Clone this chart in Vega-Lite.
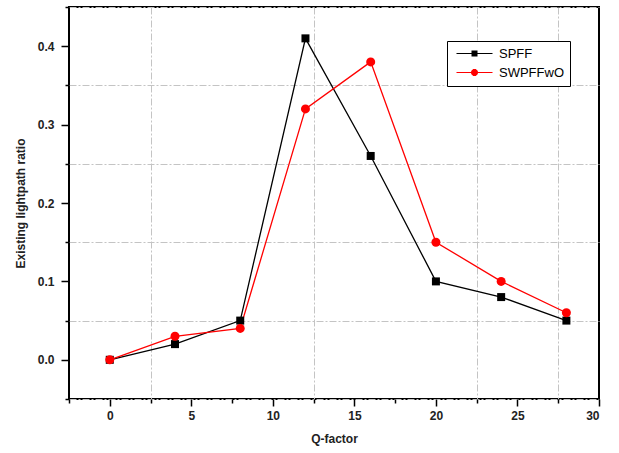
{
  "$schema": "https://vega.github.io/schema/vega-lite/v6.json",
  "width": 530,
  "height": 392,
  "autosize": {"type": "none"},
  "padding": {"left": 69, "top": 7, "right": 20, "bottom": 54},
  "config": {
    "view": {"stroke": "black", "strokeWidth": 2},
    "axis": {
      "domain": false,
      "labelFont": "Liberation Sans",
      "labelFontSize": 12,
      "labelFontWeight": "bold",
      "labelColor": "#222",
      "titleFont": "Liberation Sans",
      "titleFontSize": 12,
      "titleFontWeight": "bold",
      "titleColor": "#222",
      "tickColor": "black",
      "tickWidth": 1.5,
      "grid": false
    }
  },
  "data": {
    "values": [
      {"q": 0, "ratio": 0.0, "series": "SPFF"},
      {"q": 4, "ratio": 0.02, "series": "SPFF"},
      {"q": 8, "ratio": 0.05, "series": "SPFF"},
      {"q": 12, "ratio": 0.41, "series": "SPFF"},
      {"q": 16, "ratio": 0.26, "series": "SPFF"},
      {"q": 20, "ratio": 0.10, "series": "SPFF"},
      {"q": 24, "ratio": 0.08, "series": "SPFF"},
      {"q": 28, "ratio": 0.05, "series": "SPFF"},
      {"q": 0, "ratio": 0.0, "series": "SWPFFwO"},
      {"q": 4, "ratio": 0.03, "series": "SWPFFwO"},
      {"q": 8, "ratio": 0.04, "series": "SWPFFwO"},
      {"q": 12, "ratio": 0.32, "series": "SWPFFwO"},
      {"q": 16, "ratio": 0.38, "series": "SWPFFwO"},
      {"q": 20, "ratio": 0.15, "series": "SWPFFwO"},
      {"q": 24, "ratio": 0.10, "series": "SWPFFwO"},
      {"q": 28, "ratio": 0.06, "series": "SWPFFwO"}
    ]
  },
  "layer": [
    {
      "mark": {"type": "point", "opacity": 0},
      "encoding": {
        "x": {
          "field": "q", "type": "quantitative",
          "scale": {"domain": [-2.5, 30], "nice": false, "zero": false},
          "axis": {"orient": "bottom", "values": [2.5, 12.5, 22.5, 27.5], "grid": true, "ticks": false, "labels": false, "title": null,
                   "gridColor": "#c4c4c4", "gridDash": [7, 2, 2, 2], "gridWidth": 1}
        },
        "y": {
          "field": "ratio", "type": "quantitative",
          "scale": {"domain": [-0.05, 0.45], "nice": false, "zero": false},
          "axis": {"orient": "left", "values": [-0.05, 0.05, 0.15, 0.25, 0.35, 0.45], "grid": true, "tickSize": 4, "labels": false, "title": null,
                   "gridColor": "#c4c4c4", "gridDash": [7, 2, 2, 2], "gridWidth": 1}
        }
      }
    },
    {
      "mark": {"type": "point", "filled": false, "opacity": 0},
      "encoding": {
        "x": {"field": "q", "type": "quantitative", "axis": null},
        "y": {"field": "ratio", "type": "quantitative", "axis": null},
        "color": {
          "field": "series", "type": "nominal",
          "scale": {"domain": ["SPFF", "SWPFFwO"], "range": ["black", "red"]},
          "legend": {
            "orient": "none",
            "legendX": 378,
            "legendY": 34,
            "title": null,
            "strokeColor": "black",
            "fillColor": "white",
            "padding": 6,
            "symbolSize": 100,
            "symbolOffset": 15,
            "labelOffset": 18,
            "labelFont": "Liberation Sans",
            "labelFontSize": 13,
            "labelColor": "black",
            "rowPadding": 5,
            "symbolStrokeWidth": 1.2,
            "symbolOpacity": 1
          }
        },
        "shape": {
          "field": "series", "type": "nominal",
          "scale": {
            "domain": ["SPFF", "SWPFFwO"],
            "range": [
              "M-3.6,0H3.6M-0.6,-0.5H0.6M-0.6,-0.3H0.6M-0.6,-0.1H0.6M-0.6,0.1H0.6M-0.6,0.3H0.6M-0.6,0.5H0.6",
              "M-3.6,0H3.6M-0.36,-0.6H0.36M-0.57,-0.4H0.57M-0.67,-0.2H0.67M-0.67,0.2H0.67M-0.57,0.4H0.57M-0.36,0.6H0.36"
            ]
          }
        }
      }
    },
    {
      "transform": [{"filter": "datum.series === 'SPFF'"}],
      "mark": {"type": "line", "strokeWidth": 1.3, "color": "black"},
      "encoding": {
        "x": {
          "field": "q", "type": "quantitative",
          "axis": {"orient": "bottom", "values": [0, 5, 10, 15, 20, 25, 30], "tickSize": 7, "labelPadding": 4, "title": "Q-factor", "titlePadding": 12}
        },
        "y": {
          "field": "ratio", "type": "quantitative",
          "axis": {"orient": "left", "values": [0, 0.1, 0.2, 0.3, 0.4], "format": ".1f", "tickSize": 8, "labelPadding": 7, "title": "Existing lightpath ratio", "titlePadding": 10}
        }
      }
    },
    {
      "transform": [{"filter": "datum.series === 'SWPFFwO'"}],
      "mark": {"type": "line", "strokeWidth": 1.3, "color": "red"},
      "encoding": {
        "x": {"field": "q", "type": "quantitative", "axis": null},
        "y": {"field": "ratio", "type": "quantitative", "axis": null}
      }
    },
    {
      "transform": [{"filter": "datum.series === 'SPFF'"}],
      "mark": {"type": "square", "size": 64, "opacity": 1, "color": "black"},
      "encoding": {
        "x": {
          "field": "q", "type": "quantitative",
          "axis": {"orient": "bottom", "values": [-2.5, 2.5, 7.5, 12.5, 17.5, 22.5, 27.5], "tickSize": 4, "labels": false, "title": null}
        },
        "y": {"field": "ratio", "type": "quantitative", "axis": null}
      }
    },
    {
      "transform": [{"filter": "datum.series === 'SWPFFwO'"}],
      "mark": {"type": "circle", "size": 81, "opacity": 1, "color": "red"},
      "encoding": {
        "x": {"field": "q", "type": "quantitative", "axis": null},
        "y": {"field": "ratio", "type": "quantitative", "axis": null}
      }
    }
  ],
  "resolve": {"axis": {"x": "independent", "y": "independent"}}
}
